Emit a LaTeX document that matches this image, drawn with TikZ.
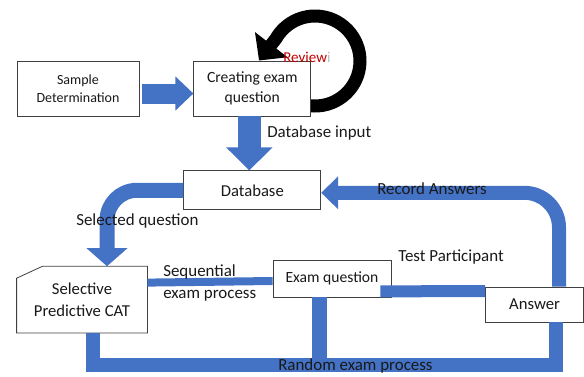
\documentclass[tikz,border=0pt]{standalone}
\usepackage{fontspec}
\setmainfont{Carlito}
\usetikzlibrary{arrows.meta}
\usetikzlibrary{positioning}
\definecolor{flowblue}{HTML}{4472C4}
\definecolor{revred}{HTML}{C00000}
\tikzset{box/.style={draw=black!75, line width=0.6pt, fill=white, inner sep=0pt, align=center, text=black!90, font=\fontsize{12.5}{16.5}\selectfont},
  lbl/.style={inner sep=0pt, anchor=west, align=left, text=black!90, font=\fontsize{12.7}{16.5}\selectfont},
  flow/.style={draw=flowblue, line join=miter},}

\begin{document}
\begin{tikzpicture}[x=0.75pt,y=0.75pt]
          \useasboundingbox (0,0) rectangle (584,376);
          % review loop
          \coordinate (revc) at (315,315);
          \draw[line width=9.75pt, -{Triangle[width=30pt,length=15pt]}] ([shift={(-97:45)}]revc) arc[start angle=-97, end angle=150, radius=45] -- ++(-17,-22);

          \node[box, minimum width=91.5pt, minimum height=41.25pt, font=\fontsize{10.5}{13.5}\selectfont] (sample) at (78,287.5) {Sample\\Determination};
          \node[box, minimum width=87.75pt, minimum height=41.25pt, font=\fontsize{11.7}{15.5}\selectfont] (create) [right = 40.5pt of sample] {Creating exam\\question};
          \node[box, minimum width=102.75pt, minimum height=29.25pt] (database) [below = 40.5pt of create] {Database};
          \node[box, draw=none, minimum width=97.5pt, minimum height=49.5pt] (cat) [below left = 42pt and 27pt of database] {Selective\\Predictive CAT};
          \node[box, minimum width=88.5pt, minimum height=27.75pt, font=\fontsize{11.7}{15.5}\selectfont] (exam) at (332,97.5) {Exam question};
          \node[box, minimum width=73.5pt, minimum height=26.25pt] (answer) at (534.5,71.5) {Answer};
          \draw[draw=black!75, line width=0.6pt] ([shift={(0,-12)}]cat.north west) -- ([shift={(26,0)}]cat.north west) -- (cat.north east) -- (cat.south east) -- (cat.south west) -- cycle;

          \node[lbl, text=revred, font=\fontsize{11.3}{14}\selectfont] (review) at (283,319) {Review\textcolor{black!25}{i}};

          % block arrows
          \draw[flow, line width=15pt, -{Triangle[width=24.75pt,length=13.5pt]}] ([shift={(3,-5)}]sample.east) -- ([shift={(0,-5)}]create.west);
          \draw[flow, line width=17.25pt, -{Triangle[width=33.75pt,length=17.25pt]}] ([shift={(-3,0)}]create.south) -- ([shift={(-3,0)}]database.north);
          \draw[flow, line width=11.25pt, rounded corners=22.5pt, -{Triangle[width=30pt,length=13.5pt]}] (database.west) -| ([shift={(25,0)}]cat.north);
          \draw[flow, line width=10.5pt, rounded corners=26pt, -{Triangle[width=24pt,length=12.75pt]}] ([shift={(24.5,0)}]answer.north) |- ([shift={(0,-2.5)}]database.east);

          % bars
          \coordinate (junc) at (319.5,11);
          \draw[flow, line width=6pt] ([shift={(0,17)}]cat.east) -- ([shift={(0,-2.5)}]exam.west);
          \draw[flow, line width=9pt] ([shift={(-11,6)}]exam.south east) -- ([shift={(0,13.5)}]answer.west);
          \draw[flow, line width=11pt] (junc |- exam.south) -- (junc);
          \draw[flow, line width=10.5pt] ([shift={(10.5,0)}]cat.south) |- (junc) -| ([shift={(21.5,0)}]answer.south);

          \node[lbl] (dbin) at (267,243) {Database input};
          \node[lbl] (selq) at (76,155) {Selected question};
          \node[lbl] (seq) at (163,93) {Sequential\\exam process};
          \node[lbl] (testp) at (398,119) {Test Participant};
          \node[lbl] (rec) at (377,187) {Record Answers};
          \node[lbl] (rand) at (278,10) {Random exam process};
        \end{tikzpicture}
\end{document}
